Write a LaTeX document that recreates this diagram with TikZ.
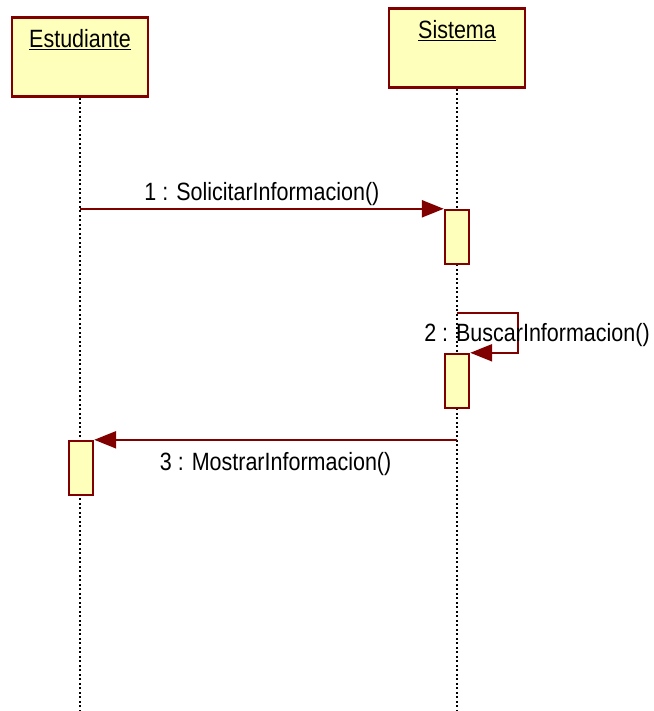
\documentclass[tikz,border=0pt]{standalone}
\usepackage{fontspec}
\setmainfont{Liberation Sans}[FakeStretch=0.86]
\usetikzlibrary{arrows.meta}
\definecolor{umlred}{RGB}{128,0,0}
\definecolor{umlfill}{RGB}{255,255,188}
\begin{document}
\begin{tikzpicture}[x=1pt,y=-1pt,
  header/.style={draw=umlred,fill=umlfill,line width=2.6pt,minimum width=136pt,minimum height=79pt,inner sep=0pt},
  actbox/.style={draw=umlred,fill=umlfill,line width=2.4pt,minimum width=24pt,minimum height=54pt,inner sep=0pt},
  lifeline/.style={black,line width=2pt,dash pattern=on 2pt off 2.5pt},
  msg/.style={draw=umlred,line width=2.4pt,-{Triangle[length=22pt,width=17pt,fill=umlred]}},
  lbl/.style={text=black,font=\fontsize{25}{28}\selectfont,inner sep=2pt},
  title/.style={text=black,font=\fontsize{25}{28}\selectfont,inner sep=0pt}]
\useasboundingbox (0,0) rectangle (653,711);
% headers
\node[header] (est) at (80,57) {};
\node[header] (sis) at (457,48) {};
\node[title] (estlbl) at (80,40) {\underline{Estudiante}};
\node[title] (sislbl) at (457,31) {\underline{Sistema}};
% lifelines
\coordinate (estend) at (80,711);
\coordinate (sisend) at (457,711);
\draw[lifeline] (est.south) -- (estend);
\draw[lifeline] (sis.south) -- (sisend);
% activation boxes
\node[actbox] (act1) at (457,237) {};
\node[actbox] (act2) at (457,381) {};
\node[actbox] (act3) at (81,468) {};
% message 1
\draw[msg] (est.south |- act1.north west) -- (act1.north west) node[lbl,midway,above] (l1) {1 : SolicitarInformacion()};
% message 2 (self)
\coordinate (m2s) at (457,313);
\coordinate (m2r) at (518,313);
\draw[msg] (m2s) -- (m2r) |- (act2.north east);
\node[lbl] (l2) at (537,335) {2 : BuscarInformacion()};
% message 3
\draw[msg] (sis.south |- act3.north east) -- (act3.north east) node[lbl,midway,below=9pt] (l3) {3 : MostrarInformacion()};
\end{tikzpicture}
\end{document}
